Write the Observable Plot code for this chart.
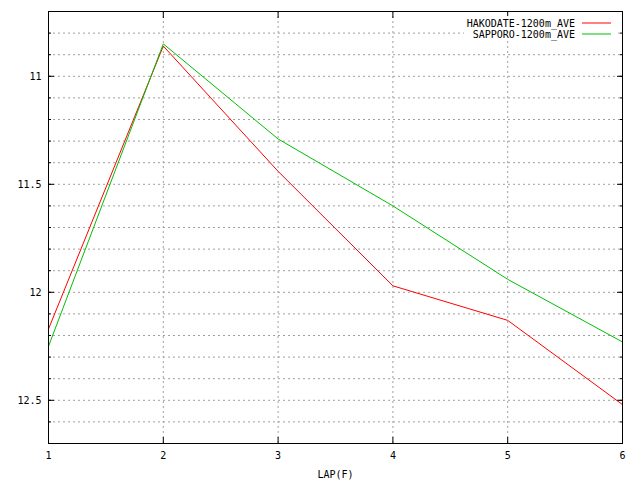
<!DOCTYPE html>
<html>
<head>
<meta charset="utf-8">
<script src="https://cdn.jsdelivr.net/npm/d3@7"></script>
<script src="https://cdn.jsdelivr.net/npm/@observablehq/plot@0.6"></script>
<style>
  body { margin: 0; background: #fff; }
  svg { font-family: "DejaVu Sans Mono", monospace; }
</style>
</head>
<body>
<div id="chart"></div>
<script>
// lap numbers and average lap times
const laps = [1, 2, 3, 4, 5, 6]
const hakodate = [12.17, 10.86, 11.44, 11.97, 12.13, 12.52]
const sapporo = [12.25, 10.85, 11.29, 11.60, 11.94, 12.23]
const seriesNames = ["HAKODATE-1200m_AVE", "SAPPORO-1200m_AVE"]
const seriesColors = ["#ff0000", "#00c000"]

const majorY = [11, 11.5, 12, 12.5]
const minorY = d3.range(108, 127).map(d => d / 10)
const gridX = [2, 3, 4, 5]

const data = [
  ...laps.map((x, i) => ({x, y: hakodate[i], s: seriesNames[0]})),
  ...laps.map((x, i) => ({x, y: sapporo[i], s: seriesNames[1]}))
]

const chart = Plot.plot({
  width: 640,
  height: 480,
  marginLeft: 48,
  marginRight: 18,
  marginTop: 11,
  marginBottom: 37,
  style: {fontSize: "10px", fontFamily: "DejaVu Sans Mono, monospace", color: "#000"},
  x: {domain: [1, 6]},
  y: {domain: [10.7, 12.7], reverse: true},
  color: {domain: seriesNames, range: seriesColors},
  marks: [
    Plot.gridY(minorY, {stroke: "#a0a0a0", strokeOpacity: 1, strokeDasharray: "2,3"}),
    Plot.gridX(gridX, {stroke: "#a0a0a0", strokeOpacity: 1, strokeDasharray: "2,3"}),
    Plot.axisY(majorY, {anchor: "left", tickSize: 0, tickPadding: 7, tickFormat: d => String(d), label: null}),
    Plot.axisY(majorY, {anchor: "left", tickSize: -6, text: null, label: null}),
    Plot.axisY(majorY, {anchor: "right", tickSize: -6, text: null, label: null}),
    Plot.axisY(minorY, {anchor: "left", tickSize: -3, text: null, label: null}),
    Plot.axisY(minorY, {anchor: "right", tickSize: -3, text: null, label: null}),
    Plot.axisX(laps, {anchor: "bottom", tickSize: 0, tickPadding: 8, tickFormat: d => String(d), label: "LAP(F)", labelAnchor: "center", labelArrow: "none", labelOffset: 34}),
    Plot.axisX(laps, {anchor: "bottom", tickSize: -6, text: null, label: null}),
    Plot.axisX(laps, {anchor: "top", tickSize: -6, text: null, label: null}),
    Plot.line(data, {x: "x", y: "y", z: "s", stroke: "s", strokeWidth: 1}),
    Plot.frame({stroke: "#000", strokeWidth: 1})
  ]
})

// gnuplot-style key in the top right corner
const svg = d3.select(chart)
const key = svg.append("g")
key.append("rect").attr("x", 464).attr("y", 16).attr("width", 152).attr("height", 24).attr("fill", "#fff")
seriesNames.forEach((name, i) => {
  const y = 23 + i * 11
  key.append("text").attr("x", 575).attr("y", y).attr("dy", "0.35em")
    .attr("text-anchor", "end").attr("font-size", 10).attr("fill", "#000").text(name)
  key.append("line").attr("x1", 582).attr("x2", 611).attr("y1", y).attr("y2", y)
    .attr("stroke", seriesColors[i]).attr("stroke-width", 1)
})
// keep the frame above the key background
svg.node().appendChild(svg.select("[aria-label=frame]").node())

document.getElementById("chart").append(chart)
</script>
</body>
</html>
